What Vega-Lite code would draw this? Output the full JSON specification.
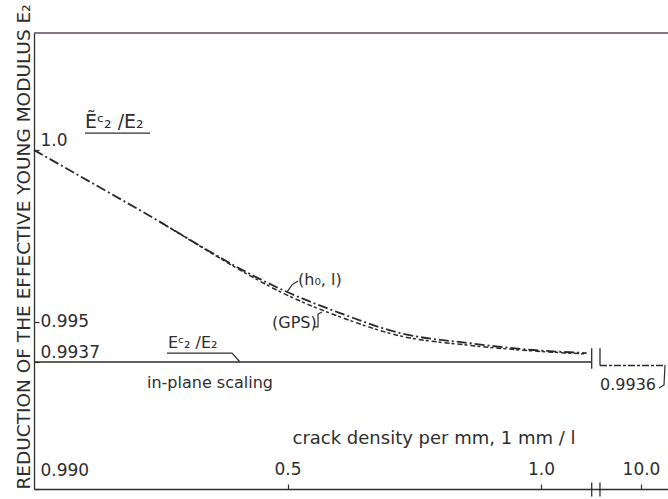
{
  "$schema": "https://vega.github.io/schema/vega-lite/v6.json",
  "width": 634,
  "height": 456,
  "autosize": {"type": "none"},
  "padding": {"left": 34, "top": 33, "right": 0, "bottom": 10},
  "background": "white",
  "config": {
    "view": {"stroke": null},
    "font": "DejaVu Sans",
    "axis": {"grid": false, "domainColor": "#2e2e2e", "domainWidth": 1.3, "tickColor": "#2e2e2e", "tickWidth": 1.2, "labelColor": "#2e2e2e", "titleColor": "#2e2e2e", "labelFont": "DejaVu Sans", "titleFont": "DejaVu Sans", "titleFontWeight": "normal"}
  },
  "datasets": {
    "hl": [
      {"x": 0, "y": 1.0}, {"x": 0.0907, "y": 0.99924}, {"x": 0.1696, "y": 0.99858}, {"x": 0.2485, "y": 0.99791},
      {"x": 0.3314, "y": 0.99718}, {"x": 0.3925, "y": 0.99666}, {"x": 0.4951, "y": 0.9959}, {"x": 0.6036, "y": 0.99526},
      {"x": 0.7219, "y": 0.99464}, {"x": 0.854, "y": 0.99432}, {"x": 0.9842, "y": 0.99409}, {"x": 1.09, "y": 0.99399}
    ],
    "gps": [
      {"x": 0.2485, "y": 0.99791}, {"x": 0.3314, "y": 0.99717}, {"x": 0.3925, "y": 0.99663}, {"x": 0.4951, "y": 0.99581},
      {"x": 0.6036, "y": 0.99515}, {"x": 0.7219, "y": 0.99455}, {"x": 0.854, "y": 0.99425}, {"x": 0.9842, "y": 0.99406},
      {"x": 1.09, "y": 0.99396}
    ],
    "right": [{"x": 9.59, "y": 0.9936}, {"x": 10.24, "y": 0.9936}],
    "base": [{"x": 0, "y": 0.9937}, {"x": 1.1, "y": 0.9937}],
    "leaders": [
      {"id": "a", "i": 0, "x": 0.1006, "y": 1.00049}, {"id": "a", "i": 1, "x": 0.2288, "y": 1.00049},
      {"id": "b", "i": 0, "x": 0.2623, "y": 0.99399}, {"id": "b", "i": 1, "x": 0.3905, "y": 0.99399}, {"id": "b", "i": 2, "x": 0.4063, "y": 0.9937},
      {"id": "c", "i": 0, "x": 0.499, "y": 0.99587}, {"id": "c", "i": 1, "x": 0.5089, "y": 0.99608}, {"id": "c", "i": 2, "x": 0.5207, "y": 0.99619},
      {"id": "d", "i": 0, "x": 0.5503, "y": 0.99484}, {"id": "d", "i": 1, "x": 0.5602, "y": 0.99484}, {"id": "d", "i": 2, "x": 0.5602, "y": 0.99523}, {"id": "d", "i": 3, "x": 0.568, "y": 0.99529},
      {"id": "e", "i": 0, "x": 10.24, "y": 0.99361}, {"id": "e", "i": 1, "x": 10.23, "y": 0.99303}, {"id": "e", "i": 2, "x": 10.18, "y": 0.99294}
    ],
    "breaks": [
      {"x": 1.1, "y": 0.99415, "y2": 0.9935},
      {"x": 9.59, "y": 0.99415, "y2": 0.9936},
      {"x": 1.1, "y": 0.98978, "y2": 0.99019},
      {"x": 9.56, "y": 0.98978, "y2": 0.99019}
    ],
    "frame": [{"x": 0, "x2": 10.27, "y": 1.0034}],
    "bigtext": [{"x": 0.1006, "y": 1.00082, "label": "Ẽᶜ₂ /E₂"}],
    "texts": [
      {"x": 0.2643, "y": 0.99432, "label": "Eᶜ₂ /E₂"},
      {"x": 0.5207, "y": 0.99621, "label": "(h₀, l)"},
      {"x": 0.4694, "y": 0.99497, "label": "(GPS)"},
      {"x": 0.2229, "y": 0.99309, "label": "in-plane scaling"},
      {"x": 9.59, "y": 0.99303, "label": "0.9936"}
    ]
  },
  "encoding": {
    "x": {
      "field": "x", "type": "quantitative",
      "scale": {"type": "linear", "domain": [0, 1.1, 9.59, 10.27], "range": [0, 557.7, 566, 634], "nice": false, "zero": false},
      "axis": {
        "values": [0.5, 1, 10], "labelExpr": "format(datum.value, '.1f')",
        "tickSize": -5, "labelPadding": -6, "labelBaseline": "bottom", "labelFontSize": 17, "labelFlush": false, "labelOverlap": false,
        "title": "crack density per mm,  1 mm / l", "titleX": 258, "titleY": -51, "titleAlign": "left", "titleBaseline": "middle", "titleFontSize": 18
      }
    },
    "y": {
      "field": "y", "type": "quantitative",
      "scale": {"type": "linear", "domain": [0.99, 0.9937, 0.995, 1.0, 1.0034], "range": [456, 329, 289, 117, 0], "nice": false, "zero": false},
      "axis": {
        "values": [0.99, 0.9937, 0.995, 1.0],
        "labelExpr": "datum.value == 1 ? '1.0' : datum.value == 0.99 ? '0.990' : datum.value == 0.995 ? '0.995' : '0.9937'",
        "tickSize": -5, "labelPadding": -1, "labelAlign": "left",
        "labelBaseline": {"condition": {"test": "datum.value == 0.995", "value": "middle"}, "value": "bottom"},
        "labelOffset": {"condition": {"test": "datum.value == 0.99", "value": -10}, "value": -1},
        "labelFontSize": 17, "labelOverlap": false, "labelFlush": false,
        "title": "REDUCTION OF THE EFFECTIVE YOUNG MODULUS E₂",
        "titleX": -11, "titleY": 456, "titleAlign": "left", "titleBaseline": "middle", "titleFontSize": 18.5
      }
    }
  },
  "layer": [
    {"data": {"name": "frame"}, "mark": {"type": "rule", "color": "#5a4a5e", "strokeWidth": 1.3}, "encoding": {"x2": {"field": "x2"}}},
    {"data": {"name": "base"}, "mark": {"type": "line", "color": "#2e2e2e", "strokeWidth": 1.3}, "encoding": {}},
    {"data": {"name": "hl"}, "mark": {"type": "line", "color": "#2a2a2a", "strokeWidth": 1.8, "strokeDash": [10, 3, 2, 3], "interpolate": "monotone"}, "encoding": {}},
    {"data": {"name": "gps"}, "mark": {"type": "line", "color": "#2a2a2a", "strokeWidth": 1.5, "strokeDash": [5, 2, 3, 3], "interpolate": "monotone"}, "encoding": {}},
    {"data": {"name": "right"}, "mark": {"type": "line", "color": "#2a2a2a", "strokeWidth": 1.5, "strokeDash": [7, 2, 3, 2]}, "encoding": {}},
    {"data": {"name": "leaders"}, "mark": {"type": "line", "color": "#2e2e2e", "strokeWidth": 1.2}, "encoding": {"detail": {"field": "id"}, "order": {"field": "i", "type": "quantitative"}}},
    {"data": {"name": "breaks"}, "mark": {"type": "rule", "color": "#2e2e2e", "strokeWidth": 1.3}, "encoding": {"y2": {"field": "y2"}}},
    {"data": {"name": "bigtext"}, "mark": {"type": "text", "align": "left", "baseline": "middle", "fontSize": 19, "color": "#2e2e2e"}, "encoding": {"text": {"field": "label"}}},
    {"data": {"name": "texts"}, "mark": {"type": "text", "align": "left", "baseline": "middle", "fontSize": 16, "color": "#2e2e2e"}, "encoding": {"text": {"field": "label"}}}
  ]
}
